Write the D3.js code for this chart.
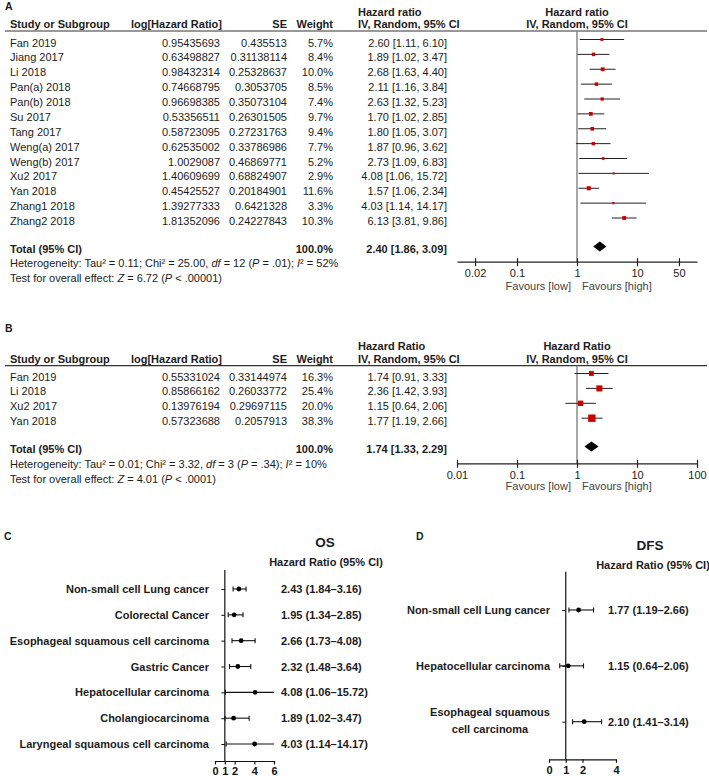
<!DOCTYPE html>
<html><head><meta charset="utf-8">
<script src="https://cdn.jsdelivr.net/npm/d3@7"></script>
<style>
body{margin:0;background:#fff}
svg{display:block}
text{font-family:"Liberation Sans",Arial,Helvetica,sans-serif}
</style>
</head><body>
<svg id="chart" width="709" height="776"></svg>
<script>
// ---------- Panel A data ----------
const studiesA = ["Fan 2019","Jiang 2017","Li 2018","Pan(a) 2018","Pan(b) 2018","Su 2017","Tang 2017","Weng(a) 2017","Weng(b) 2017","Xu2 2017","Yan 2018","Zhang1 2018","Zhang2 2018"];
const logHRA = [0.95435693,0.63498827,0.98432314,0.74668795,0.96698385,0.53356511,0.58723095,0.62535002,1.0029087,1.40609699,0.45425527,1.39277333,1.81352096];
const seA = [0.435513,0.31138114,0.25328637,0.3053705,0.35073104,0.26301505,0.27231763,0.33786986,0.46869771,0.68824907,0.20184901,0.6421328,0.24227843];
const weightA = [5.7,8.4,10.0,8.5,7.4,9.7,9.4,7.7,5.2,2.9,11.6,3.3,10.3];
const hrA = [2.60,1.89,2.68,2.11,2.63,1.70,1.80,1.87,2.73,4.08,1.57,4.03,6.13];
const lowA = [1.11,1.02,1.63,1.16,1.32,1.02,1.05,0.96,1.09,1.06,1.06,1.14,3.81];
const highA = [6.10,3.47,4.40,3.84,5.23,2.85,3.07,3.62,6.83,15.72,2.34,14.17,9.86];
const totalA = [2.40,1.86,3.09];
const ticksA = [0.02,0.1,1,10,50];

// ---------- Panel B data ----------
const studiesB = ["Fan 2019","Li 2018","Xu2 2017","Yan 2018"];
const logHRB = [0.55331024,0.85866162,0.13976194,0.57323688];
const seB = [0.33144974,0.26033772,0.29697115,0.2057913];
const weightB = [16.3,25.4,20.0,38.3];
const hrB = [1.74,2.36,1.15,1.77];
const lowB = [0.91,1.42,0.64,1.19];
const highB = [3.33,3.93,2.06,2.66];
const totalB = [1.74,1.33,2.29];
const ticksB = [0.01,0.1,1,10,100];

// ---------- Panel C data (OS) ----------
const catsC = ["Non-small cell Lung cancer","Colorectal Cancer","Esophageal squamous cell carcinoma","Gastric Cancer","Hepatocellular carcinoma","Cholangiocarcinoma","Laryngeal squamous cell carcinoma"];
const hrC = [2.43,1.95,2.66,2.32,4.08,1.89,4.03];
const lowC = [1.84,1.34,1.73,1.48,1.06,1.02,1.14];
const highC = [3.16,2.85,4.08,3.64,15.72,3.47,14.17];
const ticksC = [0,1,2,4,6];

// ---------- Panel D data (DFS) ----------
const catsD = ["Non-small cell Lung cancer","Hepatocellular carcinoma","Esophageal squamous cell carcinoma"];
const hrD = [1.77,1.15,2.10];
const lowD = [1.19,0.64,1.41];
const highD = [2.66,2.06,3.14];
const ticksD = [0,1,2,4];

const svg = d3.select("#chart");
svg.append("rect").attr("width",709).attr("height",776).attr("fill","#fff");
const INK = "#1c1c1c";

function txt(g, x, y, s, o = {}) {
  const t = g.append("text").attr("x", x).attr("y", y)
    .attr("font-size", o.size || 11)
    .attr("font-weight", o.bold ? "bold" : "normal")
    .attr("text-anchor", o.anchor || "start")
    .attr("fill", o.fill || INK)
    .text(s);
  return t;
}
function rich(g, x, y, segs, o = {}) {
  const t = g.append("text").attr("x", x).attr("y", y)
    .attr("font-size", o.size || 11).attr("fill", INK);
  segs.forEach(([s, it]) => t.append("tspan").attr("font-style", it ? "italic" : "normal").text(s));
  return t;
}

// RevMan style forest plot
function revman(o) {
  const g = svg.append("g");
  const x = d3.scaleLog().domain([0.01, 100]).range([457, 697]);
  txt(g, 5, o.letterY, o.letter, {bold: true, size: 10.5});
  txt(g, 10, o.h2, "Study or Subgroup", {bold: true});
  txt(g, 222, o.h2, "log[Hazard Ratio]", {bold: true, anchor: "end"});
  txt(g, 287, o.h2, "SE", {bold: true, anchor: "end"});
  txt(g, 333, o.h2, "Weight", {bold: true, anchor: "end"});
  txt(g, 358, o.h1, o.hrLabel, {bold: true});
  txt(g, 358, o.h2, "IV, Random, 95% CI", {bold: true});
  txt(g, 577, o.h1, o.hrLabel, {bold: true, anchor: "middle"});
  txt(g, 577, o.h2, "IV, Random, 95% CI", {bold: true, anchor: "middle"});
  g.append("line").attr("x1", 5).attr("x2", 707).attr("y1", o.rule).attr("y2", o.rule)
    .attr("stroke", "#333").attr("stroke-width", 1.2);
  g.append("line").attr("x1", x(1)).attr("x2", x(1)).attr("y1", o.rule).attr("y2", o.axisY)
    .attr("stroke", "#8a8a8a").attr("stroke-width", 1.5);
  o.studies.forEach((s, i) => {
    const by = o.row0 + i * o.step;
    const my = by - 7;
    txt(g, 10, by, s);
    txt(g, 220, by, String(o.logHR[i]), {anchor: "end"});
    txt(g, 287, by, String(o.se[i]), {anchor: "end"});
    txt(g, 333, by, o.weight[i].toFixed(1) + "%", {anchor: "end"});
    txt(g, 447, by, `${o.hr[i].toFixed(2)} [${o.low[i].toFixed(2)}, ${o.high[i].toFixed(2)}]`, {anchor: "end"});
    g.append("line").attr("x1", x(o.low[i])).attr("x2", x(o.high[i])).attr("y1", my).attr("y2", my)
      .attr("stroke", "#222").attr("stroke-width", 1);
    const sz = 1.2 * Math.sqrt(o.weight[i]);
    g.append("rect").attr("x", x(o.hr[i]) - sz / 2).attr("y", my - sz / 2)
      .attr("width", sz).attr("height", sz).attr("fill", "#cc0000");
  });
  txt(g, 10, o.totalY, "Total (95% CI)", {bold: true});
  txt(g, 333, o.totalY, "100.0%", {bold: true, anchor: "end"});
  txt(g, 447, o.totalY, `${o.total[0].toFixed(2)} [${o.total[1].toFixed(2)}, ${o.total[2].toFixed(2)}]`, {bold: true, anchor: "end"});
  const dy = o.totalY - 6.5;
  g.append("path").attr("d", `M${x(o.total[1])},${dy}L${x(o.total[0])},${dy - 5}L${x(o.total[2])},${dy}L${x(o.total[0])},${dy + 5}Z`)
    .attr("fill", "#000");
  rich(g, 10, o.hetY, o.het);
  rich(g, 10, o.testY, o.test);
  const ax = g.append("g").attr("transform", `translate(0,${o.axisY})`)
    .call(d3.axisBottom(x).tickValues(o.ticks).tickFormat(d => String(d)).tickSize(4.5).tickSizeOuter(0));
  ax.select(".domain").attr("stroke", "#222").attr("stroke-width", 1.2);
  ax.selectAll(".tick line").attr("y1", -3.5).attr("y2", 4.5).attr("stroke", "#222").attr("stroke-width", 1.2);
  ax.selectAll(".tick text").attr("y", o.tickLabY).attr("dy", 0)
    .attr("font-size", 11).attr("fill", "#222")
    .attr("font-family", '"Liberation Sans",Arial,sans-serif');
  txt(g, 571, o.favY, "Favours [low]", {anchor: "end", fill: "#444"});
  txt(g, 582, o.favY, "Favours [high]", {fill: "#444"});
}

revman({
  letter: "A", letterY: 10,
  hrLabel: "Hazard ratio", h1: 15.5, h2: 28, rule: 31,
  studies: studiesA, logHR: logHRA, se: seA, weight: weightA, hr: hrA, low: lowA, high: highA,
  total: totalA, ticks: ticksA,
  row0: 46.5, step: 14.875, totalY: 253, hetY: 267, testY: 282,
  axisY: 261.7, tickLabY: 15.3, favY: 289.5,
  het: [["Heterogeneity: Tau² = 0.11; Chi² = 25.00, ",0],["df",1],[" = 12 (",0],["P",1],[" = .01); ",0],["I",1],["² = 52%",0]],
  test: [["Test for overall effect: ",0],["Z",1],[" = 6.72 (",0],["P",1],[" < .00001)",0]]
});

revman({
  letter: "B", letterY: 332,
  hrLabel: "Hazard Ratio", h1: 349.5, h2: 362.5, rule: 365.7,
  studies: studiesB, logHR: logHRB, se: seB, weight: weightB, hr: hrB, low: lowB, high: highB,
  total: totalB, ticks: ticksB,
  row0: 380.5, step: 14.9, totalY: 453, hetY: 468, testY: 483,
  axisY: 463.3, tickLabY: 16, favY: 490,
  het: [["Heterogeneity: Tau² = 0.01; Chi² = 3.32, ",0],["df",1],[" = 3 (",0],["P",1],[" = .34); ",0],["I",1],["² = 10%",0]],
  test: [["Test for overall effect: ",0],["Z",1],[" = 4.01 (",0],["P",1],[" < .0001)",0]]
});

// Sub-group forest plots (C, D)
function subplot(o) {
  const g = svg.append("g");
  const x = d3.scaleLinear().domain([0, o.xmax]).range(o.xr);
  const y = d3.scalePoint().domain(o.cats).range(o.yr);
  txt(g, o.letterX, 540, o.letter, {bold: true, size: 10.5});
  txt(g, o.titleX, o.titleY, o.title, {bold: true, size: 13.5, anchor: "middle"});
  txt(g, o.subX, o.subY, "Hazard Ratio (95% CI)", {bold: true, anchor: "middle"});
  g.append("line").attr("x1", x(1)).attr("x2", x(1)).attr("y1", o.vTop).attr("y2", o.axisY)
    .attr("stroke", "#111").attr("stroke-width", 1.2);
  const ya = g.append("g").attr("transform", `translate(${x(1)},0)`)
    .call(d3.axisLeft(y).tickSize(3.5).tickFormat(""));
  ya.select(".domain").remove();
  ya.selectAll(".tick line").attr("stroke", "#111").attr("stroke-width", 1);
  o.cats.forEach((c, i) => {
    const yy = y(c);
    const lines = o.labelLines[i];
    if (lines.length === 1) {
      txt(g, o.labelR, yy + 4, lines[0], {bold: true, anchor: "end"});
    } else {
      lines.forEach((l, k) => txt(g, o.labelC, yy - 6 + k * 17.5, l, {bold: true, anchor: "middle"}));
    }
    const lo = Math.max(o.low[i], 0), hiClip = o.high[i] > o.xmax, hi = Math.min(o.high[i], o.xmax);
    g.append("line").attr("x1", x(lo)).attr("x2", x(hi)).attr("y1", yy).attr("y2", yy)
      .attr("stroke", "#111").attr("stroke-width", 1.1);
    g.append("line").attr("x1", x(lo)).attr("x2", x(lo)).attr("y1", yy - 2.5).attr("y2", yy + 2.5)
      .attr("stroke", "#111").attr("stroke-width", 1.1);
    if (!hiClip) g.append("line").attr("x1", x(hi)).attr("x2", x(hi)).attr("y1", yy - 2.5).attr("y2", yy + 2.5)
      .attr("stroke", "#111").attr("stroke-width", 1.1);
    g.append("circle").attr("cx", x(o.hr[i])).attr("cy", yy).attr("r", 2.4).attr("fill", "#000");
    txt(g, o.hrX, yy + 4, `${o.hr[i].toFixed(2)} (${o.low[i].toFixed(2)}\u2013${o.high[i].toFixed(2)})`, {bold: true});
  });
  const ax = g.append("g").attr("transform", `translate(0,${o.axisY})`)
    .call(d3.axisBottom(x).tickValues(o.ticks).tickFormat(d => String(d)).tickSize(3.5).tickSizeOuter(0));
  ax.select(".domain").attr("stroke", "#111").attr("stroke-width", 1.2);
  ax.selectAll(".tick line").attr("stroke", "#111").attr("stroke-width", 1.2);
  ax.selectAll(".tick text").attr("y", o.tickLabY).attr("dy", 0).attr("font-size", 11).attr("font-weight", "bold")
    .attr("fill", "#111").attr("font-family", '"Liberation Sans",Arial,sans-serif');
}

subplot({
  letter: "C", letterX: 4, title: "OS", titleX: 325, titleY: 546.5, subX: 326, subY: 565.5,
  cats: catsC, hr: hrC, low: lowC, high: highC, ticks: ticksC, xmax: 6, xr: [215, 274],
  yr: [589, 744], vTop: 570, axisY: 761, tickLabY: 13.5, labelR: 209, labelC: 0, hrX: 281,
  labelLines: catsC.map(c => [c])
});

subplot({
  letter: "D", letterX: 416, title: "DFS", titleX: 650, titleY: 550, subX: 653, subY: 569,
  cats: catsD, hr: hrD, low: lowD, high: highD, ticks: ticksD, xmax: 4, xr: [549, 616],
  yr: [610, 721.7], vTop: 571.7, axisY: 759.3, tickLabY: 15, labelR: 550, labelC: 490, hrX: 608,
  labelLines: [[catsD[0]], [catsD[1]], ["Esophageal squamous", "cell carcinoma"]]
});
</script>
</body></html>
